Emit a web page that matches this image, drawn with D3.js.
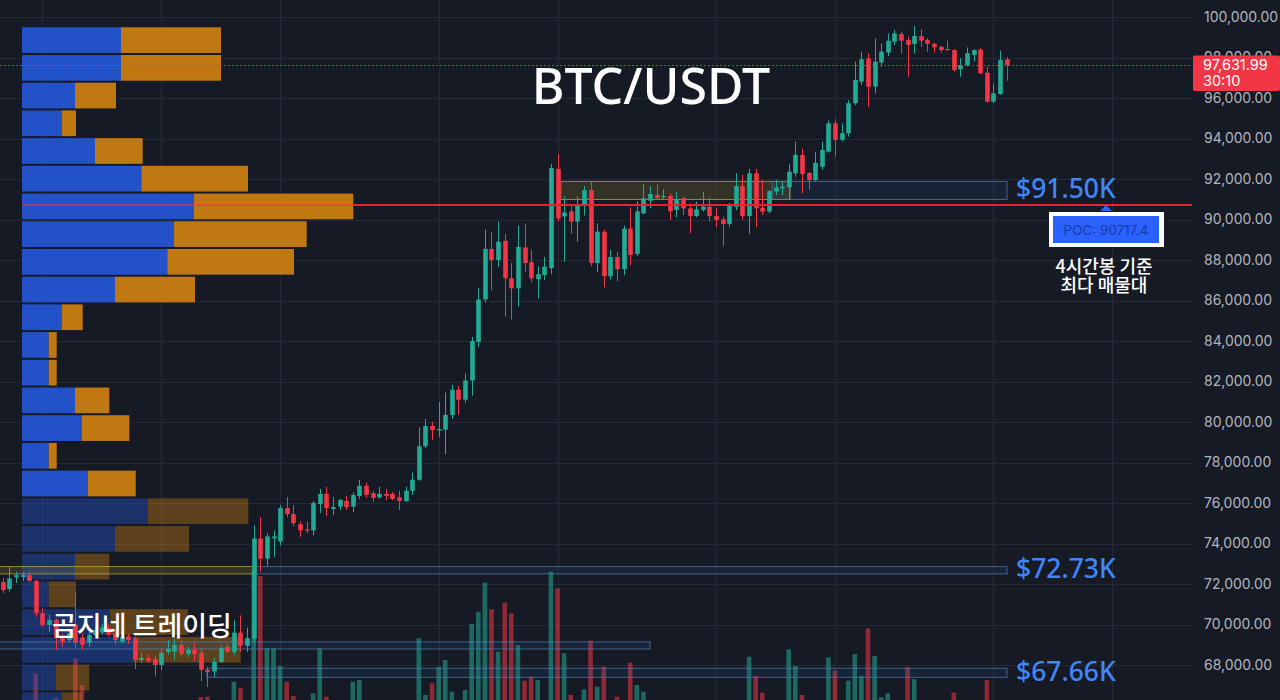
<!DOCTYPE html>
<html><head><meta charset="utf-8">
<script src="https://cdn.jsdelivr.net/npm/d3@7"></script>
<style>
html,body{margin:0;padding:0;background:#161a25;}
svg{display:block;}
</style></head><body>
<svg id="chart" width="1280" height="700"></svg>
<script>
// ---------- DATA ----------
const opens = [
72100,71750,72330,72350,72440,72160,70550,69980,70220,69330,
69230,70000,69350,69100,69480,69600,69850,69580,69150,69420,
69320,68250,68350,68300,68000,68650,68650,69000,68550,68750,
68600,67760,67680,68160,68900,68650,69600,68950,69300,74250,
73250,74250,74100,75750,75450,74950,74700,74650,75950,76450,
75700,75820,76100,75820,76350,76850,76480,76280,76450,76450,
76280,76100,76600,77150,78800,79800,79580,79620,80350,81600,
81100,82050,83950,86050,88550,88000,88950,87100,86600,88620,
87900,87050,87260,87600,92500,90150,90400,89900,90700,91450,
87850,89400,87200,88150,87550,89550,88300,90300,90930,91210,
91100,91160,90470,91050,90550,90170,90470,90630,90170,90010,
89780,90630,91650,90170,92280,90580,90390,91380,91540,91590,
92280,93190,92300,91950,92610,93350,94750,93930,94260,95740,
96810,97960,96560,97750,98240,98780,99160,98860,98670,99060,
98860,98670,98530,98420,98370,97420,97630,98120,98400,97250,
95820,96200,97910];
const highs = [
72280,72850,72610,72560,72610,72200,70800,70470,70300,69550,
69800,71600,69550,69700,69900,70050,70000,69750,69550,69550,
69400,68600,68550,68450,68800,69230,69280,69280,68900,69100,
68850,67900,68350,68950,69050,70200,70450,69850,74900,75300,
74500,74650,75900,76300,75900,75080,75080,76100,76700,76800,
76300,76200,76350,76550,77150,77000,76600,76800,76700,76550,
76600,76800,77500,79750,80150,80000,81000,81450,81850,81800,
82400,84200,86600,89500,89400,89900,89300,87850,89700,89800,
88500,87700,88150,92750,93250,91150,90700,91150,91650,91900,
89800,89500,88500,88400,89700,90600,90900,91750,91650,91750,
91500,91300,91370,91130,90800,90880,91370,91100,90550,90140,
90800,92280,92200,92500,92500,91950,91450,91950,91870,92740,
93850,93500,92330,93350,93840,94900,94950,94750,95900,97800,
98290,98200,98950,98700,99190,99360,99280,99030,99560,99390,
98950,98730,98570,98830,98400,97960,98500,98400,98450,97550,
96720,98340,98010];
const lows = [
71550,71620,72050,72150,72120,70380,69890,69640,68740,68890,
69150,68850,68750,68900,69400,69500,69400,69000,69050,69050,
67800,68100,68100,67430,67750,68500,68250,68450,68400,68200,
67200,66900,67400,68100,68600,68500,68650,68650,69100,72600,
72900,73330,73900,75300,74850,74330,74500,74400,75500,75350,
75400,75650,75650,75550,76200,76250,76050,76200,76150,76150,
75650,76050,76400,77100,78700,79100,79250,78400,80150,80350,
80950,81300,83700,85900,86500,87650,85200,85050,85700,87420,
86900,86100,87000,87300,89900,87900,89300,88900,90200,87700,
87400,86650,87050,86950,87250,87750,88200,90250,90550,91000,
90950,89980,90100,90220,89320,90110,90380,89900,89620,88700,
89620,90470,89980,89300,89620,90220,90300,91200,91200,91000,
92110,91300,91450,91900,92450,93300,93100,93850,94090,95650,
96640,95570,96230,97550,98070,98620,98200,97050,98200,98530,
98290,98240,98240,98340,97300,97050,97550,97800,97190,95770,
95740,96150,96850];
const closes = [
71700,72280,72440,72440,72160,70550,69980,70220,69330,69150,
69580,69100,69000,69480,69730,69850,69500,69230,69400,69230,
68250,68350,68200,68000,68600,68800,69000,68550,68750,68550,
67760,67650,68160,68840,68650,69600,68950,69330,74250,73250,
74350,74350,75750,75450,75000,74650,74650,76000,76450,75750,
75800,76150,75800,76400,76850,76400,76250,76450,76350,76200,
76100,76600,77150,78800,79800,79600,79650,80350,81600,81100,
82050,84000,86050,88550,88000,88900,87100,86600,88650,87850,
87100,87300,87670,92550,90050,90350,89900,90700,91450,87850,
89400,87200,88150,87550,89550,88250,90400,91050,91260,91050,
91160,90400,91000,90550,90170,90500,90630,90170,89980,89780,
90670,91650,90170,92280,90550,90390,91400,91580,91620,92360,
93190,92250,91950,92800,93430,94750,93930,94260,95740,96890,
97910,96560,97800,98290,98830,99190,98830,98620,99060,98830,
98670,98500,98370,98370,97380,97630,98210,98370,97220,95820,
96230,97880,97631.99];
const volumes = [
900,1100,700,600,800,3870,1200,900,1400,700,
800,5370,2700,800,900,600,700,900,600,700,
1000,600,500,900,800,700,900,1000,600,800,
1500,1530,900,1000,700,3030,2370,1100,14000,13600,
6370,6370,4600,3030,1600,900,800,1870,6370,1530,
700,600,800,3030,3200,1000,700,600,500,700,
1000,900,1100,7370,1700,2870,4530,5200,2030,1100,
2200,8800,10030,12930,10270,6030,10930,9870,6700,3130,
3530,3200,1100,14030,12370,5870,1700,1000,2270,7130,
2530,4530,1000,1530,1100,4930,2700,2030,800,700,
600,900,800,700,1000,600,700,800,900,1100,
1000,1200,1100,5530,3600,1930,1000,800,700,6270,
4600,1700,900,1100,1000,5470,4130,1100,3130,5800,
3600,8370,5600,1470,1870,1000,1100,4470,3270,900,
800,700,600,800,1930,1000,900,800,1100,3200,
1200,1100,400];

const priceTicks = [68000,70000,72000,74000,76000,78000,80000,82000,84000,86000,88000,90000,92000,94000,96000,98000,100000];
const timeGridIdx = [6,24,42,66,84,108,126,150,168];

// volume profile rows (top to bottom)
const profileTop = 99541;
const profileRowSize = 1368.4;
const profileUp   = [9900,9900,5300,4000,7300,11930,17200,15200,14530,9300,4000,2670,2670,5300,6000,2670,6600,12570,9300,5300,2670,8800,11100,3400,4000];
const profileDown = [10000,10000,4100,1400,4770,10670,15930,13270,12670,8000,2070,800,800,3430,4730,800,4770,10060,7400,3430,2730,7800,10770,3330,2000];
const valueAreaRows = 17;

// zones
const zoneStart = [84.5, 116.5, -0.5, 37.9, -0.5, 30.9];
const zoneEnd   = [119.2, 152.05, 37.9, 152.05, 98.0, 152.05];
const zoneHigh  = [91880, 91880, 72860, 72860, 69140, 67840];
const zoneLow   = [90990, 90990, 72500, 72500, 68790, 67390];
const zoneKind  = ['yellow','blue','yellow','blue','blue','blue'];
const zoneLabel = ['', '$91.50K', '', '$72.73K', '', '$67.66K'];

const pocPrice = 90717.4;
const lastPrice = 97631.99;
const countdown = '30:10';
const titleText = 'BTC/USDT';
const pocNote = ['4시간봉 기준','최다 매물대'];
const watermark = '곰지네 트레이딩';

// ---------- CHART ----------
const W = 1280, H = 700, plotRight = 1192;
const n = closes.length;
const UP = '#22ab94', DOWN = '#f23645';
const svg = d3.select('#chart');

const x = d3.scaleLinear().domain([0, n - 1]).range([2.7, 1006.7]);
const y = d3.scaleLinear().domain([68000, 100000]).range([665, 17]);
const yVol = d3.scaleLinear().domain([0, 20000]).range([712, 512]);
const xProf = d3.scaleLinear().domain([0, 33130]).range([22, 353.3]);

svg.append('rect').attr('width', W).attr('height', H).attr('fill', '#161a25');

const defs = svg.append('defs');
defs.append('clipPath').attr('id', 'plotClip')
  .append('rect').attr('x', 0).attr('y', 0).attr('width', plotRight).attr('height', H);

const plot = svg.append('g').attr('clip-path', 'url(#plotClip)');

// grid
plot.append('g').selectAll('line').data(priceTicks).join('line')
  .attr('x1', 0).attr('x2', plotRight)
  .attr('y1', d => Math.round(y(d)) + 0.5).attr('y2', d => Math.round(y(d)) + 0.5)
  .attr('stroke', '#252936').attr('stroke-width', 1);
plot.append('g').selectAll('line').data(timeGridIdx).join('line')
  .attr('x1', d => Math.round(x(d)) + 0.5).attr('x2', d => Math.round(x(d)) + 0.5)
  .attr('y1', 0).attr('y2', H)
  .attr('stroke', '#252936').attr('stroke-width', 1);

// volume bars
const idx = d3.range(n);
const isUp = i => closes[i] >= opens[i];
plot.append('g').selectAll('rect').data(idx).join('rect')
  .attr('x', i => x(i) - 2.3).attr('width', 4.6)
  .attr('y', i => yVol(volumes[i])).attr('height', i => yVol(0) - yVol(volumes[i]))
  .attr('fill', i => isUp(i) ? UP : DOWN).attr('fill-opacity', 0.55);

// volume profile
const prow = plot.append('g').selectAll('g').data(d3.range(profileUp.length)).join('g')
  .attr('opacity', k => k < valueAreaRows ? 1 : 0.42);
const rowTop = k => y(profileTop - k * profileRowSize) + 1;
const rowH = k => y(profileTop - (k + 1) * profileRowSize) - y(profileTop - k * profileRowSize) - 2;
prow.append('rect')
  .attr('x', xProf(0)).attr('y', rowTop).attr('height', rowH)
  .attr('width', k => xProf(profileUp[k]) - xProf(0))
  .attr('fill', '#2352c8');
prow.append('rect')
  .attr('x', k => xProf(profileUp[k])).attr('y', rowTop).attr('height', rowH)
  .attr('width', k => xProf(profileUp[k] + profileDown[k]) - xProf(profileUp[k]))
  .attr('fill', '#c07812');

// zones
const zoneStyle = {
  yellow: {fill: 'rgba(150,135,45,0.22)', stroke: 'rgba(190,170,70,0.75)'},
  blue:   {fill: 'rgba(45,90,140,0.16)',  stroke: 'rgba(80,130,180,0.7)'}
};
plot.append('g').selectAll('rect').data(d3.range(zoneStart.length)).join('rect')
  .attr('x', k => x(zoneStart[k])).attr('width', k => x(zoneEnd[k]) - x(zoneStart[k]))
  .attr('y', k => y(zoneHigh[k])).attr('height', k => y(zoneLow[k]) - y(zoneHigh[k]))
  .attr('fill', k => zoneStyle[zoneKind[k]].fill)
  .attr('stroke', k => zoneStyle[zoneKind[k]].stroke).attr('stroke-width', 1);

// candles
const cg = plot.append('g').selectAll('g').data(idx).join('g');
cg.append('line')
  .attr('x1', i => Math.round(x(i)) + 0.5).attr('x2', i => Math.round(x(i)) + 0.5)
  .attr('y1', i => y(highs[i])).attr('y2', i => y(lows[i]))
  .attr('stroke', i => isUp(i) ? UP : DOWN).attr('stroke-width', 1);
cg.append('rect')
  .attr('x', i => Math.round(x(i)) + 0.5 - 2.3).attr('width', 4.6)
  .attr('y', i => y(Math.max(opens[i], closes[i])))
  .attr('height', i => Math.max(1.2, Math.abs(y(opens[i]) - y(closes[i]))))
  .attr('fill', i => isUp(i) ? UP : DOWN);

// POC line
plot.append('line')
  .attr('x1', xProf(0)).attr('x2', xProf(33130))
  .attr('y1', y(pocPrice)).attr('y2', y(pocPrice))
  .attr('stroke', '#ff2a3c').attr('stroke-opacity', 0.55).attr('stroke-width', 2);
plot.append('line')
  .attr('x1', xProf(33130)).attr('x2', plotRight)
  .attr('y1', y(pocPrice)).attr('y2', y(pocPrice))
  .attr('stroke', '#f01e2c').attr('stroke-width', 2);

// last price dotted line
plot.append('line')
  .attr('x1', 0).attr('x2', plotRight)
  .attr('y1', Math.round(y(lastPrice)) + 0.5).attr('y2', Math.round(y(lastPrice)) + 0.5)
  .attr('stroke', DOWN).attr('stroke-opacity', 0.85).attr('stroke-width', 1).attr('stroke-dasharray', '2,2');

// zone labels
svg.append('g').selectAll('text').data(d3.range(zoneStart.length).filter(k => zoneLabel[k])).join('text')
  .attr('x', k => x(zoneEnd[k]) + 9)
  .attr('y', k => (y(zoneHigh[k]) + y(zoneLow[k])) / 2 - 2)
  .attr('dominant-baseline', 'central')
  .attr('fill', '#3f86f6')
  .attr('font-family', '"Noto Sans", "DejaVu Sans", sans-serif')
  .attr('font-weight', 500)
  .attr('font-size', 26.5)
  .text(k => zoneLabel[k]);

// POC callout
const pocY = y(pocPrice);
const pc = svg.append('g');
pc.append('path')
  .attr('d', `M1100,${pocY + 6}L1106,${pocY}L1112,${pocY + 6}Z`)
  .attr('fill', '#2962ff');
pc.append('rect').attr('x', 1049).attr('y', 212).attr('width', 115).attr('height', 35).attr('fill', '#ffffff');
pc.append('rect').attr('x', 1053).attr('y', 216).attr('width', 106).attr('height', 27).attr('fill', '#2962ff');
pc.append('text').attr('x', 1106).attr('y', 234.5).attr('text-anchor', 'middle')
  .attr('fill', '#1b3c9c').attr('font-family', 'Inter, "Noto Sans", sans-serif').attr('font-size', 13.5)
  .text('POC: ' + pocPrice);
pc.selectAll('text.note').data(pocNote).join('text').attr('class', 'note')
  .attr('x', 1104).attr('y', (d, i) => 273 + i * 19).attr('text-anchor', 'middle')
  .attr('fill', '#ffffff').attr('font-family', '"Noto Sans CJK KR", sans-serif')
  .attr('font-weight', 500).attr('font-size', 18)
  .text(d => d);

// title
svg.append('text').attr('x', 651).attr('y', 104).attr('text-anchor', 'middle')
  .attr('fill', '#ffffff').attr('font-family', '"Noto Sans", sans-serif')
  .attr('font-weight', 500).attr('font-size', 50)
  .text(titleText);

// watermark
svg.append('text').attr('x', 52).attr('y', 636)
  .attr('fill', '#ffffff').attr('font-family', '"Noto Sans CJK KR", sans-serif')
  .attr('font-weight', 500).attr('font-size', 27)
  .text(watermark);

// price axis
const axis = svg.append('g').attr('transform', `translate(${plotRight + 4},0)`)
  .call(d3.axisRight(y).tickValues(priceTicks).tickFormat(d3.format(',.2f')).tickSize(0).tickPadding(8));
axis.select('.domain').remove();
axis.selectAll('text').attr('fill', '#b2b5be').attr('font-size', 14)
  .attr('font-family', 'Inter, "Noto Sans", sans-serif');

// last price label
const lp = svg.append('g');
lp.append('rect').attr('x', plotRight + 1).attr('y', y(lastPrice) - 9.5).attr('width', W - plotRight - 1).attr('height', 35.5)
  .attr('rx', 2).attr('fill', DOWN);
lp.append('text').attr('x', plotRight + 11).attr('y', y(lastPrice) + 5.5)
  .attr('fill', '#ffffff').attr('font-family', 'Inter, "Noto Sans", sans-serif').attr('font-size', 14.5)
  .text(d3.format(',.2f')(lastPrice));
lp.append('text').attr('x', plotRight + 11).attr('y', y(lastPrice) + 21.5)
  .attr('fill', '#ffffff').attr('font-family', 'Inter, "Noto Sans", sans-serif').attr('font-size', 14.5)
  .text(countdown);
</script>
</body></html>
